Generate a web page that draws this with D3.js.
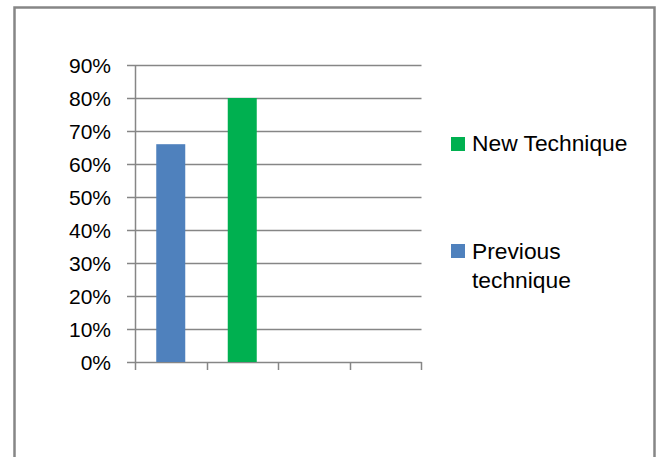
<!DOCTYPE html>
<html><head><meta charset="utf-8">
<script src="https://cdn.jsdelivr.net/npm/d3@7"></script>
<style>html,body{margin:0;padding:0;background:#fff;}svg{display:block;}</style>
</head><body>
<script>
const categories = ["1", "2", "3", "4"];
const previousTechnique = [0.66, null, null, null];
const newTechnique = [null, 0.80, null, null];
const yTicks = [0, 0.1, 0.2, 0.3, 0.4, 0.5, 0.6, 0.7, 0.8, 0.9];
const seriesNames = ["New Technique", "Previous technique"];
const seriesColors = {"New Technique": "#00B050", "Previous technique": "#4F81BD"};

const W = 659, H = 457;
const svg = d3.select("body").append("svg").attr("width", W).attr("height", H);
const font = "'Liberation Sans', Arial, sans-serif";

// outer border
svg.append("rect").attr("x", 14.5).attr("y", 7.5).attr("width", 640).attr("height", 470)
  .attr("fill", "#fff").attr("stroke", "#868686").attr("stroke-width", 2.5);

const plot = {left: 135, right: 421, top: 65, bottom: 362};
const x = d3.scaleBand().domain(categories).range([plot.left, plot.right]);
const y = d3.scaleLinear().domain([0, 0.9]).range([plot.bottom, plot.top]);

const g = svg.append("g");
// gridlines
g.selectAll("line.grid").data(yTicks).join("line")
  .attr("x1", plot.left - 8).attr("x2", plot.right + 0.5)
  .attr("y1", d => Math.round(y(d)) + 0.5).attr("y2", d => Math.round(y(d)) + 0.5)
  .attr("stroke", "#868686").attr("stroke-width", 1.5);

// y axis line
g.append("line").attr("x1", plot.left + 0.5).attr("x2", plot.left + 0.5)
  .attr("y1", plot.top).attr("y2", plot.bottom + 8)
  .attr("stroke", "#868686").attr("stroke-width", 1.5);

// category ticks
const catEdges = categories.map(c => x(c)).concat([x(categories[categories.length - 1]) + x.bandwidth()]);
g.selectAll("line.ct").data(catEdges.slice(1)).join("line")
  .attr("x1", d => Math.round(d) + 0.5).attr("x2", d => Math.round(d) + 0.5)
  .attr("y1", plot.bottom).attr("y2", plot.bottom + 8)
  .attr("stroke", "#868686").attr("stroke-width", 1.5);

// y labels
g.selectAll("text.yl").data(yTicks).join("text")
  .attr("x", 111).attr("y", d => y(d) + 7.5)
  .attr("text-anchor", "end").attr("font-family", font).attr("font-size", 21)
  .attr("fill", "#000").text(d => d3.format(".0%")(d));

// bars
const barW = 29;
function drawBars(vals, color) {
  g.selectAll(null).data(categories.map((c, i) => ({c, v: vals[i]})).filter(d => d.v != null))
    .join("rect")
    .attr("x", d => x(d.c) + x.bandwidth() / 2 - barW / 2)
    .attr("y", d => y(d.v)).attr("width", barW).attr("height", d => y(0) - y(d.v))
    .attr("fill", color);
}
drawBars(previousTechnique, seriesColors["Previous technique"]);
drawBars(newTechnique, seriesColors["New Technique"]);

// legend
const leg = svg.append("g");
const lfs = 22.8;
leg.append("rect").attr("x", 451).attr("y", 137).attr("width", 14).attr("height", 14).attr("fill", seriesColors[seriesNames[0]]);
leg.append("text").attr("x", 472).attr("y", 151).attr("font-family", font).attr("font-size", lfs).text(seriesNames[0]);
leg.append("rect").attr("x", 451).attr("y", 244).attr("width", 14).attr("height", 14).attr("fill", seriesColors[seriesNames[1]]);
const t2 = leg.append("text").attr("font-family", font).attr("font-size", lfs);
t2.append("tspan").attr("x", 472).attr("y", 259).text("Previous");
t2.append("tspan").attr("x", 472).attr("y", 288).text("technique");
</script>
</body></html>
